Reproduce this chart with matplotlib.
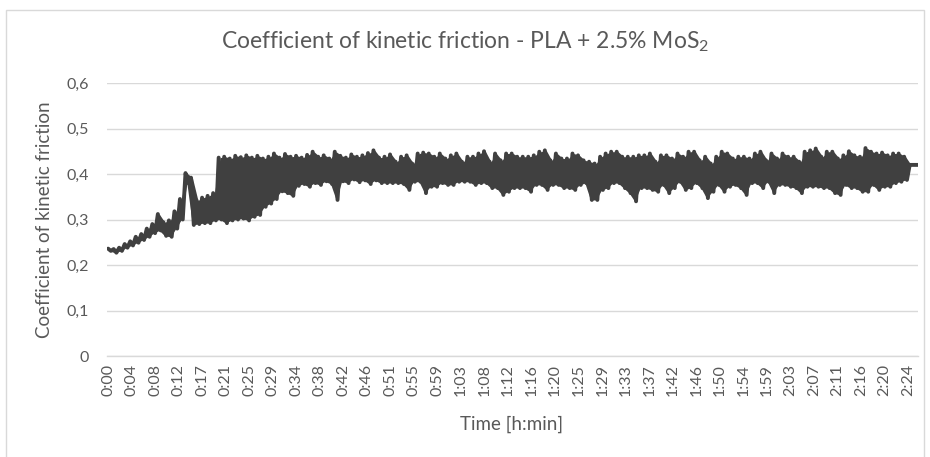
import numpy as np
import matplotlib.pyplot as plt
from matplotlib.patches import Rectangle

plt.rcParams['font.family'] = ['Lato', 'DejaVu Sans']
plt.rcParams['mathtext.fontset'] = 'custom'
plt.rcParams['mathtext.rm'] = 'Lato'

# friction readings, one peak and one trough per minute of the test
peaks = [
    # 0:00 - 0:19
    .236, .235, .238, .246, .252, .262, .268, .280, .290, .312,
    .294, .298, .318, .345, .402, .392, .342, .348, .352, .358,
    # 0:20 - 0:48
    .436, .438, .434, .440, .437, .441, .436, .440, .434, .438,
    .445, .436, .444, .438, .440, .436, .442, .449, .438, .441,
    .434, .449, .440, .436, .443, .438, .441, .446, .452,
    # 0:49 - 1:12
    .436, .438, .443, .427, .438, .441, .423, .445, .447, .445,
    .438, .445, .434, .441, .445, .427, .438, .438, .445, .450,
    .427, .445, .430, .445,
    # 1:13 - 1:37
    .445, .438, .438, .438, .441, .449, .452, .430, .445, .434,
    .434, .445, .441, .430, .427, .423, .438, .445, .449, .449,
    .438, .438, .438, .441, .441,
    # 1:38 - 2:01
    .445, .427, .441, .441, .434, .445, .438, .449, .449, .430,
    .438, .423, .438, .449, .445, .434, .438, .438, .434, .445,
    .449, .430, .445, .434,
    # 2:02 - 2:24
    .445, .438, .438, .427, .449, .452, .456, .438, .449, .449,
    .434, .441, .450, .441, .438, .457, .449, .445, .447, .441,
    .445, .445, .438,
    # end of run
    .420, .420]

troughs = [
    # 0:00 - 0:19
    .231, .227, .231, .238, .243, .249, .255, .262, .270, .276,
    .264, .262, .280, .300, .380, .288, .290, .292, .292, .298,
    # 0:20 - 0:48
    .300, .292, .298, .300, .302, .298, .306, .310, .328, .335,
    .345, .362, .358, .352, .374, .378, .372, .380, .376, .384,
    .378, .343, .384, .380, .388, .382, .386, .378, .386,
    # 0:49 - 1:12
    .380, .380, .380, .380, .378, .365, .383, .383, .358, .372,
    .372, .380, .376, .376, .383, .383, .383, .376, .380, .380,
    .369, .369, .354, .361,
    # 1:13 - 1:37
    .369, .369, .369, .361, .376, .376, .365, .376, .376, .369,
    .369, .365, .376, .380, .343, .343, .365, .369, .380, .380,
    .369, .358, .340, .369, .369,
    # 1:38 - 2:01
    .365, .361, .376, .358, .369, .383, .365, .369, .380, .369,
    .347, .361, .376, .361, .372, .376, .369, .354, .380, .380,
    .369, .383, .358, .376,
    # 2:02 - 2:24
    .376, .372, .369, .358, .372, .372, .372, .369, .369, .358,
    .354, .376, .369, .369, .361, .361, .376, .365, .372, .372,
    .380, .383, .387,
    # end of run
    .420, .420]

time_labels = ["0:00", "0:04", "0:08", "0:12", "0:17", "0:21", "0:25", "0:29",
               "0:34", "0:38", "0:42", "0:46", "0:51", "0:55", "0:59", "1:03",
               "1:08", "1:12", "1:16", "1:20", "1:25", "1:29", "1:33", "1:37",
               "1:42", "1:46", "1:50", "1:54", "1:59", "2:03", "2:07", "2:11",
               "2:16", "2:20", "2:24"]
y_ticks = [0, 0.1, 0.2, 0.3, 0.4, 0.5, 0.6]
y_labels = ["0", "0,1", "0,2", "0,3", "0,4", "0,5", "0,6"]

label_step = 4.256  # minutes between category labels

# interleave peaks and troughs along the time axis
minutes = np.arange(len(peaks), dtype=float)
t = np.empty(2 * len(peaks))
mu = np.empty(2 * len(peaks))
t[0::2] = minutes
t[1::2] = minutes + 0.5
mu[0::2] = peaks
mu[1::2] = troughs

grey = "#595959"
grid = "#d9d9d9"
ink = "#404040"

fig = plt.figure(figsize=(9.3, 4.57), dpi=100)
ax = fig.add_axes([107 / 930, 1 - 356 / 457, 811 / 930, 273 / 457])

# dense oscillation: solid core between troughs and peaks, zigzag on top
ax.fill_between(minutes + 0.25, troughs, peaks, color=ink, lw=0)
ax.plot(t, mu, color=ink, lw=2.8, solid_joinstyle="round",
        solid_capstyle="round")

ax.set_xlim(-0.2, t[-1])
ax.set_ylim(0, 0.6)
ax.set_yticks(y_ticks)
ax.set_yticklabels(y_labels)
ax.set_xticks(np.arange(len(time_labels)) * label_step)
ax.set_xticklabels(time_labels, rotation=90)
ax.yaxis.grid(True, color=grid, lw=1)
ax.set_axisbelow(True)
ax.tick_params(axis="both", length=0, colors=grey, labelsize=11.5)
ax.tick_params(axis="y", pad=13)
ax.tick_params(axis="x", pad=6)
for side in ["top", "right", "left"]:
    ax.spines[side].set_visible(False)
ax.spines["bottom"].set_color(grid)
ax.spines["bottom"].set_linewidth(1)

fig.text(0.5, 1 - 42 / 457,
         r"Coefficient of kinetic friction - PLA + 2.5% Mo$\mathrm{S}_2$",
         ha="center", va="center", fontsize=16.5, color=grey)
fig.text(45 / 930, 1 - 220 / 457, "Coefficient of kinetic friction",
         rotation=90, ha="center", va="center", fontsize=13.5, color=grey)
fig.text(512 / 930, 1 - 424 / 457, "Time [h:min]",
         ha="center", va="center", fontsize=13.5, color=grey)

fig.patches.append(Rectangle((6 / 930, -0.02), 918 / 930, 1 - 10 / 457 + 0.02,
                             transform=fig.transFigure, fill=False,
                             edgecolor=grid, lw=1))

fig.savefig("out.png", dpi=100)
